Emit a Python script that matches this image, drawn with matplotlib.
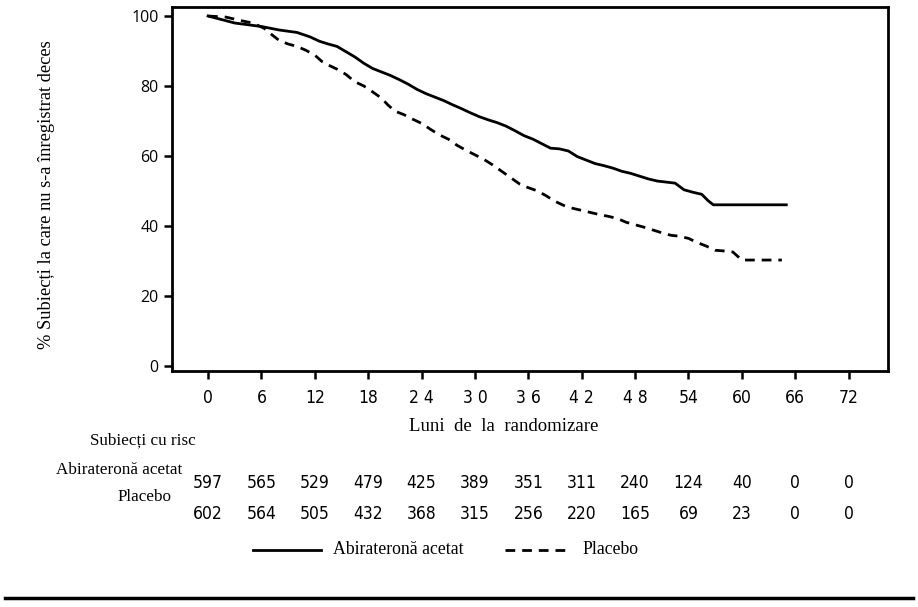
import matplotlib
matplotlib.use("Agg")
import matplotlib.pyplot as plt
import matplotlib.transforms as mtransforms

# Kaplan-Meier curves (months, % alive)
abi_months = [0, 1.5, 3, 4.5, 6, 8, 10, 11.5, 12.5, 13.5, 14.5, 15.5, 16.5, 17.5,
              18.5, 19.5, 20.5, 21.5, 22.5, 23.5, 24.5, 25.5, 26.5, 27.5, 28.5,
              29.5, 30.5, 31.5, 32.5, 33.5, 34.5, 35.5, 36.5, 37.5, 38.5, 39.5,
              40.5, 41.5, 42.5, 43.5, 44.5, 45.5, 46.5, 47.5, 48.5, 49.5, 50.5,
              51.5, 52.5, 53.5, 54.5, 55.5, 56.2, 56.8, 65]
abi_surv = [100, 99, 98, 97.5, 97, 96, 95.3, 94, 92.8, 92, 91.3, 89.8, 88.3, 86.5,
            85, 84, 83, 81.8, 80.5, 79, 77.8, 76.8, 75.8, 74.6, 73.5,
            72.3, 71.2, 70.3, 69.5, 68.5, 67.2, 65.8, 64.8, 63.5, 62.2, 62,
            61.4, 59.8, 58.8, 57.8, 57.2, 56.5, 55.6, 55, 54.2, 53.4, 52.8,
            52.5, 52.2, 50.3, 49.6, 49, 47.2, 46, 46]

pla_months = [0, 2, 3.5, 5, 6.3, 7, 8, 9, 10, 11, 12, 12.8, 13.5, 14.5, 15.5, 16.5,
              17.5, 18.5, 19.5, 20.2, 21, 22, 23, 24, 25, 26, 27, 28, 29, 30, 31,
              32, 33, 34, 35, 36, 37, 38, 39, 40, 41, 42, 43, 44, 45, 46, 47, 48,
              49, 50, 51, 52, 53, 54, 55, 56, 57, 58, 59, 60, 64.5]
pla_surv = [100, 99.7, 98.8, 98, 96.5, 95, 93, 92, 91.3, 90.2, 88.8, 87, 86, 84.8,
            83.3, 81.2, 80, 78.3, 76.5, 74.6, 72.8, 71.8, 70.5, 69.3, 67.6, 66,
            64.8, 63, 61.6, 60.3, 59, 57.4, 55.6, 53.8, 52, 50.9, 50, 48.6, 47,
            45.8, 45, 44.4, 43.8, 43.2, 42.7, 42.1, 41, 40.3, 39.6, 38.8, 38,
            37.3, 37, 36.4, 35.2, 34.2, 33, 32.8, 32.5, 30.2, 30.2]

# x ticks and labels (the reference spaces some digits apart)
tick_months = [0, 6, 12, 18, 24, 30, 36, 42, 48, 54, 60, 66, 72]
tick_labels = ["0", "6", "12", "18", "2 4", "3 0", "3 6", "4 2", "4 8",
               "54", "60", "66", "72"]

# numbers at risk
risk_abi = [597, 565, 529, 479, 425, 389, 351, 311, 240, 124, 40, 0, 0]
risk_pla = [602, 564, 505, 432, 368, 315, 256, 220, 165, 69, 23, 0, 0]

serif = "Liberation Serif"
narrow = dict(fontfamily="DejaVu Sans", fontstretch="condensed", fontsize=12.5)
dash = (3.5, 2.5)

fig = plt.figure(figsize=(9.18, 6.07), dpi=100)
ax = fig.add_axes([0.1874, 0.389, 0.7796, 0.599])

ax.plot(abi_months, abi_surv, color="black", lw=2.0)
ax.plot(pla_months, pla_surv, color="black", lw=2.0, dashes=dash)

ax.set_xlim(-4.05, 76.4)
ax.set_ylim(-1.5, 102.5)
ax.set_xticks(tick_months)
ax.set_xticklabels(tick_labels, **narrow)
ax.set_yticks([0, 20, 40, 60, 80, 100])
ax.set_yticklabels(["0", "20", "40", "60", "80", "100"], fontfamily="Open Sans",
                   fontsize=11.5)
ax.tick_params(axis="both", direction="out", length=6, width=1.8, color="black")
ax.tick_params(axis="x", pad=7)
for s in ax.spines.values():
    s.set_linewidth(2.0)

ax.set_ylabel("% Subiecți la care nu s-a înregistrat deces", fontfamily=serif,
              fontsize=13.3)
ax.yaxis.set_label_coords(-0.163, 0.485)

trans = mtransforms.blended_transform_factory(ax.transData, fig.transFigure)
fig.text(0.549, 0.297, "Luni  de  la  randomizare", fontfamily=serif,
         fontsize=13.5, ha="center", va="center")
fig.text(0.2135, 0.274, "Subiecți cu risc", fontfamily=serif, fontsize=12.3,
         ha="right", va="center")
fig.text(0.199, 0.226, "Abirateronă acetat", fontfamily=serif, fontsize=12.3,
         ha="right", va="center")
fig.text(0.187, 0.181, "Placebo", fontfamily=serif, fontsize=12.3,
         ha="right", va="center")

for m, a, p in zip(tick_months, risk_abi, risk_pla):
    ax.text(m, 0.204, str(a), transform=trans, ha="center", va="center", **narrow)
    ax.text(m, 0.153, str(p), transform=trans, ha="center", va="center", **narrow)

# legend drawn below the at-risk table
fig.add_artist(plt.Line2D([0.276, 0.350], [0.094, 0.094], color="black", lw=2.0))
fig.text(0.3625, 0.094, "Abirateronă acetat", fontfamily=serif, fontsize=12.8,
         ha="left", va="center")
fig.add_artist(plt.Line2D([0.550, 0.622], [0.094, 0.094], color="black", lw=2.0,
                          dashes=dash))
fig.text(0.635, 0.094, "Placebo", fontfamily=serif, fontsize=12.8,
         ha="left", va="center")

# bottom rule
fig.add_artist(plt.Line2D([0.005, 0.995], [0.015, 0.015], color="black", lw=2.5))

fig.savefig("out.png", dpi=100)
